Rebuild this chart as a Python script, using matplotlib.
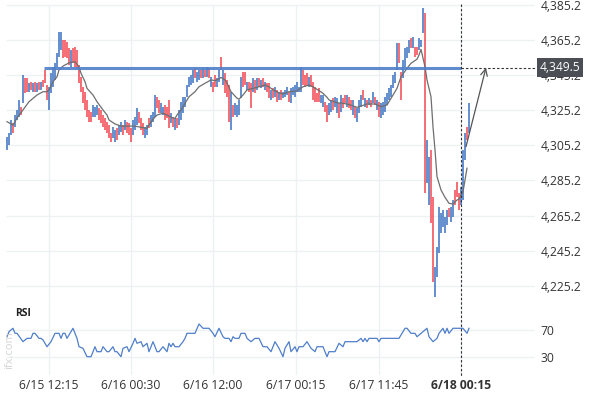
import numpy as np
import matplotlib
matplotlib.use("Agg")
import matplotlib.pyplot as plt
from matplotlib.lines import Line2D

# ---------------- data ----------------
directions = ("BBBRBBBRBR" "RBRBRBRBRR" "RBBBBBBBRR" "RRBRRRRRRR" "RRRBBBRRRR"
              "RRRBBRBBRB" "RRRBBBRRRB" "BRBBBRRBBR" "RRBRBRBBBB" "BBBBRBBRBR"
              "BRBRRBBRBR" "RRBRBBBBRR" "BRRBRBRBRB" "RRBRBRBRBB" "BRBBBBBBRR"
              "RBRRRRRBBR" "RBBRBBRBRR" "BRRBRBBBRB" "RBRBRBRBBB" "BBBBBBRRBB"
              "BBRBRRBBBR" "BBRRBBBBBB" "BRBBRRRBBB" "RB")

highs = [4310.0, 4312.3, 4319.7, 4317.9, 4322.5, 4325.4, 4331.1, 4327.1, 4345.3, 4343.6,
         4343.6, 4340.8, 4341.3, 4340.8, 4341.3, 4340.8, 4341.3, 4341.3, 4342.5, 4348.2,
         4339.6, 4338.5, 4346.5, 4349.9, 4352.2, 4357.8, 4369.8, 4369.8, 4365.3, 4365.3,
         4364.1, 4360.7, 4359.6, 4360.7, 4361.3, 4359.6, 4351.0, 4344.2, 4338.5, 4335.6,
         4331.1, 4325.4, 4324.2, 4328.2, 4327.1, 4328.2, 4326.5, 4325.4, 4322.5, 4320.8,
         4318.5, 4316.8, 4312.3, 4315.7, 4314.0, 4315.1, 4316.8, 4318.5, 4316.8, 4319.7,
         4318.5, 4317.9, 4315.1, 4319.7, 4321.4, 4326.5, 4324.2, 4320.8, 4317.9, 4315.7,
         4316.8, 4320.8, 4322.5, 4324.2, 4333.9, 4332.8, 4331.1, 4329.4, 4327.1, 4328.2,
         4327.1, 4331.1, 4323.6, 4321.4, 4320.8, 4320.8, 4325.4, 4329.9, 4332.8, 4332.8,
         4339.6, 4344.2, 4345.3, 4348.2, 4349.3, 4347.0, 4348.2, 4348.2, 4349.3, 4348.2,
         4349.9, 4349.3, 4344.2, 4341.3, 4345.3, 4343.6, 4348.2, 4355.5, 4348.2, 4346.5,
         4342.5, 4339.6, 4335.6, 4328.2, 4329.4, 4328.2, 4331.1, 4344.2, 4347.0, 4347.0,
         4341.3, 4341.3, 4340.8, 4343.6, 4342.5, 4343.6, 4343.6, 4342.5, 4343.6, 4341.3,
         4340.8, 4340.8, 4336.8, 4337.9, 4338.5, 4336.8, 4335.6, 4336.8, 4335.6, 4336.8,
         4338.5, 4335.6, 4337.9, 4338.5, 4339.6, 4341.3, 4338.5, 4349.9, 4348.2, 4345.3,
         4346.5, 4344.2, 4345.3, 4341.3, 4338.5, 4335.1, 4337.9, 4333.9, 4333.9, 4329.9,
         4328.2, 4329.4, 4331.1, 4332.2, 4332.8, 4332.2, 4329.4, 4333.9, 4332.2, 4333.9,
         4333.9, 4332.8, 4331.1, 4331.1, 4327.1, 4326.5, 4331.1, 4333.9, 4336.8, 4332.2,
         4331.1, 4332.2, 4331.1, 4335.6, 4332.8, 4331.1, 4329.9, 4329.4, 4329.9, 4332.8,
         4335.1, 4337.9, 4339.6, 4345.3, 4347.0, 4363.5, 4363.5, 4347.0, 4353.9, 4360.7,
         4361.3, 4365.3, 4366.4, 4367.0, 4361.3, 4361.3, 4366.4, 4365.3, 4383.5, 4380.6,
         4308.3, 4298.6, 4302.6, 4275.8, 4235.9, 4247.3, 4270.1, 4266.7, 4268.4, 4264.4,
         4268.4, 4269.5, 4270.1, 4274.1, 4279.8, 4284.3, 4278.1, 4281.5, 4302.6, 4312.3,
         4315.7, 4329.4]

lows = [4302.6, 4305.4, 4311.1, 4312.3, 4315.7, 4319.7, 4321.4, 4322.5, 4329.4, 4335.1,
        4335.6, 4335.6, 4336.8, 4335.6, 4335.6, 4335.6, 4336.8, 4336.8, 4338.5, 4340.8,
        4331.1, 4325.4, 4335.1, 4338.5, 4342.5, 4349.9, 4355.5, 4359.6, 4355.0, 4355.5,
        4355.0, 4351.0, 4349.9, 4352.2, 4349.9, 4349.3, 4340.8, 4335.6, 4329.4, 4325.4,
        4321.4, 4318.5, 4318.5, 4321.4, 4321.4, 4322.5, 4319.7, 4318.0, 4315.7, 4314.0,
        4312.3, 4309.4, 4307.1, 4309.4, 4307.1, 4308.3, 4311.1, 4312.8, 4311.1, 4314.0,
        4312.3, 4311.1, 4307.1, 4311.1, 4314.0, 4316.8, 4318.0, 4314.0, 4311.1, 4309.4,
        4311.1, 4315.1, 4315.7, 4318.5, 4321.4, 4326.5, 4323.6, 4323.6, 4322.5, 4319.7,
        4320.8, 4315.1, 4318.0, 4315.7, 4314.0, 4315.1, 4316.8, 4319.7, 4323.6, 4327.1,
        4332.8, 4338.5, 4339.6, 4340.8, 4343.6, 4341.3, 4342.5, 4343.6, 4343.6, 4344.2,
        4344.2, 4343.6, 4338.5, 4335.6, 4338.5, 4338.5, 4341.3, 4348.2, 4339.6, 4335.1,
        4332.8, 4318.5, 4314.0, 4321.4, 4322.5, 4321.4, 4322.5, 4332.2, 4338.5, 4339.6,
        4336.8, 4335.6, 4326.5, 4335.6, 4335.1, 4336.8, 4338.5, 4337.9, 4338.5, 4336.8,
        4335.6, 4332.2, 4331.1, 4332.2, 4332.8, 4329.9, 4331.1, 4331.1, 4332.2, 4332.8,
        4333.9, 4329.9, 4329.4, 4333.9, 4332.8, 4335.6, 4335.6, 4335.6, 4339.6, 4338.5,
        4339.6, 4338.5, 4338.5, 4331.1, 4329.9, 4329.9, 4329.9, 4329.4, 4327.1, 4324.2,
        4318.5, 4322.5, 4324.2, 4325.4, 4327.1, 4323.6, 4320.8, 4324.2, 4326.5, 4329.4,
        4327.1, 4326.5, 4325.4, 4322.5, 4320.8, 4318.5, 4323.6, 4327.1, 4331.1, 4327.1,
        4326.5, 4328.2, 4327.1, 4329.4, 4328.2, 4325.4, 4321.4, 4320.8, 4322.5, 4324.2,
        4328.2, 4331.1, 4332.8, 4337.9, 4340.8, 4348.2, 4352.2, 4331.1, 4343.6, 4349.9,
        4355.0, 4357.8, 4360.7, 4360.7, 4355.5, 4356.7, 4359.6, 4361.3, 4369.2, 4278.1,
        4283.8, 4271.2, 4261.0, 4227.4, 4218.8, 4230.2, 4243.9, 4255.3, 4258.7, 4255.3,
        4259.8, 4264.4, 4261.6, 4264.4, 4271.2, 4275.8, 4268.4, 4271.2, 4274.1, 4296.9,
        4308.3, 4312.3]

ma_bars = [0, 3, 5, 8, 11, 15, 18, 20, 21, 23, 25, 26, 28, 30, 31, 34, 36, 37, 39, 40,
           43, 45, 48, 50, 51, 54, 57, 60, 64, 67, 70, 71, 73, 75, 78, 80, 82, 84, 85, 87,
           89, 91, 94, 96, 99, 102, 104, 105, 107, 109, 110, 112, 115, 116, 118, 120, 123,
           126, 129, 131, 133, 136, 138, 141, 145, 146, 148, 151, 153, 156, 158, 160, 161,
           165, 168, 171, 175, 177, 180, 184, 187, 190, 192, 195, 197, 200, 202, 205, 206,
           207, 209, 210, 212, 213, 214, 215, 217, 219, 221, 223, 225, 226, 228, 230]
ma_values = [4318.7, 4316.8, 4320.8, 4325.4, 4330.1, 4333.9, 4335.8, 4335.8, 4336.8, 4341.5,
             4344.3, 4348.2, 4350.4, 4351.6, 4352.3, 4352.9, 4350.0, 4346.3, 4341.5, 4337.7,
             4333.9, 4330.1, 4325.4, 4322.5, 4319.7, 4317.4, 4316.2, 4316.2, 4316.2, 4315.5,
             4314.9, 4316.8, 4320.1, 4322.5, 4323.5, 4322.5, 4321.2, 4320.6, 4322.5, 4325.4,
             4329.2, 4332.9, 4335.8, 4338.6, 4340.6, 4342.5, 4342.1, 4342.5, 4343.9, 4342.5,
             4340.6, 4335.8, 4332.1, 4331.5, 4333.9, 4336.8, 4337.7, 4338.6, 4339.6, 4338.6,
             4336.8, 4335.2, 4334.5, 4335.8, 4336.2, 4337.2, 4338.6, 4339.6, 4338.6, 4336.4,
             4334.9, 4332.6, 4331.1, 4329.5, 4329.2, 4328.5, 4326.9, 4327.6, 4328.8, 4328.8,
             4327.3, 4328.2, 4332.0, 4337.7, 4344.3, 4349.1, 4352.0, 4354.3, 4356.7, 4359.9,
             4350.0, 4342.5, 4332.9, 4315.8, 4302.6, 4287.4, 4279.8, 4275.6, 4272.2, 4271.8,
             4274.1, 4274.5, 4278.8, 4292.2]

rsi_bars = [0, 1, 3, 4, 5, 8, 10, 12, 13, 14, 16, 17, 18, 20, 22, 24, 26, 27, 28, 29,
            30, 33, 35, 36, 38, 40, 42, 44, 45, 47, 48, 50, 51, 53, 54, 55, 57, 58, 60, 61,
            63, 64, 65, 67, 68, 70, 71, 73, 75, 76, 78, 80, 81, 82, 83, 84, 86, 88, 89, 90,
            94, 96, 98, 101, 103, 104, 106, 108, 109, 111, 112, 113, 114, 116, 117, 119, 120,
            122, 124, 126, 128, 130, 132, 134, 136, 138, 139, 141, 142, 144, 145, 146, 148,
            150, 152, 154, 155, 158, 160, 161, 164, 166, 168, 169, 171, 175, 177, 178, 179,
            180, 181, 185, 186, 187, 191, 196, 199, 200, 202, 204, 205, 207, 210, 211, 213,
            215, 216, 218, 219, 220, 221, 223, 224, 227, 228, 230, 231]
rsi_values = [59.4, 66.8, 71.8, 64.4, 64.4, 52.1, 57.0, 57.0, 64.4, 64.4, 57.0, 57.0, 54.6,
              44.7, 52.1, 64.4, 64.4, 57.0, 64.4, 64.4, 57.0, 71.8, 57.0, 44.7, 42.4, 30.0,
              30.0, 44.7, 37.4, 37.4, 44.7, 37.4, 37.4, 44.7, 37.4, 37.4, 30.0, 42.4, 44.7,
              37.4, 49.7, 57.0, 49.7, 52.1, 44.7, 49.7, 37.4, 52.1, 37.4, 37.4, 44.7, 37.4,
              49.7, 44.7, 49.7, 44.7, 44.7, 52.1, 57.0, 64.4, 64.4, 78.1, 71.8, 71.8, 64.4,
              59.4, 71.8, 59.4, 57.0, 57.0, 52.1, 59.4, 57.0, 57.0, 64.4, 64.4, 57.0, 52.1,
              57.0, 57.0, 44.7, 44.7, 37.4, 52.1, 42.4, 30.0, 42.4, 52.1, 37.4, 44.7, 37.4,
              44.7, 44.7, 52.1, 42.4, 37.4, 44.7, 44.7, 30.0, 37.4, 37.4, 49.7, 44.7, 52.1,
              52.1, 52.1, 57.0, 52.1, 57.0, 52.1, 57.0, 57.0, 52.1, 57.0, 57.0, 57.0, 71.8,
              71.8, 64.4, 64.4, 59.4, 64.4, 71.8, 59.4, 52.1, 57.0, 64.4, 71.8, 64.4, 71.8,
              64.4, 71.8, 71.8, 71.8, 71.8, 64.4, 71.8]

price_ticks = [4225.2, 4245.2, 4265.2, 4285.2, 4305.2, 4325.2, 4345.2, 4365.2, 4385.2]
rsi_ticks = [30, 70]
time_ticks = [21, 62, 103, 144.5, 186, 227]
time_labels = ["6/15 12:15", "6/16 00:30", "6/16 12:00", "6/17 00:15", "6/17 11:45", "6/18 00:15"]

resistance = 4349.5
resistance_start_bar = 18.5
current_bar = 227
arrow_from = (229.5, 4304.5)
arrow_to = (239.5, resistance)

# ---------------- style ----------------
plt.rcParams['font.family'] = ['Open Sans', 'DejaVu Sans']
UP = '#3a70c2'
DOWN = '#f2454e'
GRID = '#edf1f4'
TXT = '#333333'

W, H = 590, 400
fig = plt.figure(figsize=(W / 100, H / 100), dpi=100)
ax = fig.add_axes([6 / W, 100 / H, 529 / W, 300 / H])
rx = fig.add_axes([6 / W, 25 / H, 529 / W, 75 / H])

XMIN, XMAX = -0.5, 264
for a in (ax, rx):
    a.set_xlim(XMIN, XMAX)
    for s in a.spines.values():
        s.set_visible(False)
    a.set_facecolor('none')

ax.set_ylim(4217.1, 4388.05)
rx.set_ylim(3.1, 113.4)

# grid
ax.hlines(price_ticks, XMIN, XMAX, color=GRID, lw=1.0, zorder=0)
ax.vlines(time_ticks, 4217.1, 4385.2, color=GRID, lw=1.0, zorder=0)
rx.hlines(rsi_ticks, XMIN, XMAX, color=GRID, lw=1.0, zorder=0)
rx.vlines(time_ticks, 3.1, 113.4, color=GRID, lw=1.0, zorder=0)

# bars
idx = np.arange(len(highs))
cols = [UP if d == 'B' else DOWN for d in directions]
ax.vlines(idx, lows, highs, colors=cols, lw=1.1, zorder=3)

# moving average
ax.plot(ma_bars, ma_values, color='#6e6e6e', lw=0.9, zorder=4)

# resistance line
ax.hlines(resistance, resistance_start_bar, current_bar, color='#4f7fc9', lw=2.2, alpha=0.9, zorder=5)
ax.plot([current_bar, 266], [resistance, resistance], color='#333333', lw=0.8,
        ls=(0, (2.2, 1.8)), clip_on=False, zorder=5)

# arrow
ax.annotate('', xy=arrow_to, xytext=arrow_from,
            arrowprops=dict(arrowstyle='->', color='#555555', lw=0.9,
                            mutation_scale=12, shrinkA=0, shrinkB=0), zorder=6)

# current time dashed line across both panels
x_fig = ax.transData.transform((current_bar, 0))[0] / fig.dpi / (W / 100)
fig.add_artist(Line2D([x_fig, x_fig], [1 - 4 / H, 1 - 377 / H], transform=fig.transFigure,
                      color='#333333', lw=0.8, ls=(0, (2.2, 1.8))))

# price axis
ax.yaxis.tick_right()
ax.set_yticks(price_ticks, labels=[f"{v:,.1f}" for v in price_ticks])
ax.tick_params(axis='y', length=0, pad=4, labelsize=8.7, labelcolor=TXT)
ax.set_xticks([])

ax.text(1.0095, resistance, f"{resistance:,.1f}", transform=ax.get_yaxis_transform(),
        ha='left', va='center', fontsize=8.7, color='white', zorder=10,
        bbox=dict(boxstyle='square,pad=0.22', fc='#4b4f55', ec='none'), clip_on=False)

# RSI
rx.plot(rsi_bars, rsi_values, color='#4f7fc9', lw=0.9, zorder=3)
rx.yaxis.tick_right()
rx.set_yticks(rsi_ticks, labels=[str(v) for v in rsi_ticks])
rx.tick_params(axis='y', length=0, pad=4, labelsize=8.7, labelcolor=TXT)
rx.set_xticks(time_ticks, labels=time_labels)
rx.tick_params(axis='x', length=0, pad=3, labelsize=8.7, labelcolor=TXT)
for lbl in rx.get_xticklabels()[-1:]:
    lbl.set_fontweight('bold')

fig.text(15 / W, 1 - 314 / H, "RSI", fontsize=7.5, fontweight='bold', color='#222222',
         ha='left', va='center')
fig.text(9.5 / W, 1 - 350 / H, "ifx.com", fontsize=8, color='#d4d4d4', rotation=90,
         ha='center', va='center')

fig.savefig("out.png", dpi=100)
